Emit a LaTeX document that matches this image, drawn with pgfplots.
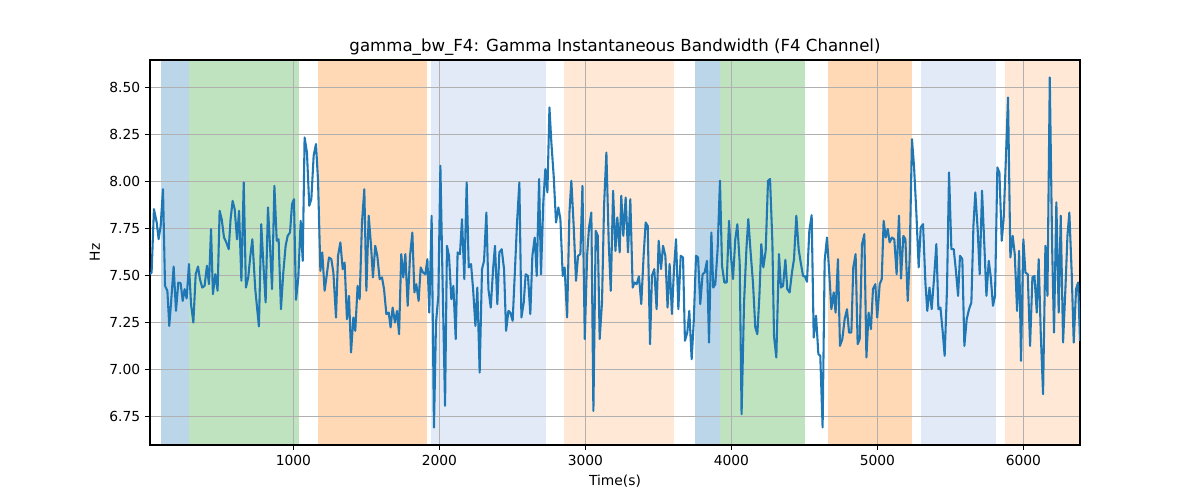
\documentclass[border=0pt]{standalone}
\usepackage{fontspec}
\setmainfont{DejaVu Sans}
\usepackage{pgfplots}
\pgfplotsset{compat=1.18}
\usepackage{pgfplotstable}
\definecolor{tabblue}{HTML}{1F77B4}
\definecolor{tabgreen}{HTML}{2CA02C}
\definecolor{taborange}{HTML}{FF7F0E}
\definecolor{lbl}{RGB}{110,150,215}
\definecolor{gridgray}{HTML}{B0B0B0}
\pgfplotsset{every axis title/.style={at={(0.5,1)}, anchor=base, yshift=6bp, font=\fontsize{12}{14}\selectfont}}

\pgfplotstableread{
t v
18 7.505
29 7.514
45 7.851
64 7.780
77 7.691
91 7.762
107 7.957
121 7.443
137 7.417
150 7.230
164 7.372
180 7.546
196 7.310
212 7.461
228 7.457
242 7.363
255 7.426
269 7.376
285 7.559
299 7.346
315 7.248
331 7.505
347 7.546
360 7.479
376 7.434
392 7.443
408 7.550
422 7.452
436 7.745
449 7.399
465 7.505
481 7.417
495 7.842
509 7.798
525 7.700
541 7.674
557 7.638
570 7.798
584 7.895
598 7.851
614 7.691
628 7.842
644 7.470
660 7.993
675 7.434
691 7.488
705 7.600
719 7.691
739 7.426
751 7.330
764 7.227
780 7.771
794 7.567
810 7.355
826 7.860
840 7.656
854 7.426
870 7.975
886 7.683
899 7.691
915 7.319
931 7.514
947 7.656
961 7.709
977 7.727
991 7.878
1004 7.904
1018 7.369
1034 7.488
1050 7.789
1064 7.576
1077 8.232
1093 8.152
1109 7.869
1123 7.904
1139 8.135
1155 8.197
1169 8.002
1185 7.523
1198 7.621
1214 7.417
1228 7.496
1244 7.594
1260 7.585
1274 7.514
1292 7.275
1306 7.603
1322 7.674
1338 7.532
1351 7.567
1367 7.266
1381 7.390
1395 7.089
1411 7.275
1424 7.204
1440 7.443
1454 7.372
1470 7.780
1486 7.957
1500 7.417
1516 7.816
1532 7.656
1545 7.488
1561 7.656
1575 7.603
1591 7.479
1607 7.488
1621 7.426
1637 7.293
1653 7.301
1666 7.222
1680 7.328
1696 7.248
1710 7.310
1724 7.186
1739 7.612
1753 7.488
1767 7.612
1783 7.337
1799 7.603
1815 7.727
1829 7.408
1842 7.452
1858 7.363
1872 7.541
1888 7.514
1904 7.505
1918 7.585
1931 7.301
1947 7.816
1963 6.690
1977 7.248
1993 7.390
2007 8.082
2023 7.426
2039 6.805
2052 7.656
2066 7.603
2082 7.372
2096 7.443
2112 7.160
2125 7.621
2141 7.612
2155 7.798
2171 7.479
2187 7.993
2201 7.541
2217 7.559
2231 7.426
2247 7.230
2260 7.434
2276 6.982
2292 7.532
2306 7.576
2322 7.833
2336 7.426
2352 7.328
2368 7.532
2381 7.656
2397 7.346
2411 7.621
2427 7.638
2443 7.532
2457 7.204
2473 7.310
2486 7.301
2502 7.257
2518 7.532
2532 7.780
2548 7.993
2562 7.275
2578 7.355
2591 7.505
2607 7.496
2623 7.293
2637 7.603
2653 7.700
2667 7.496
2683 8.011
2696 7.505
2712 7.887
2726 8.064
2740 7.940
2754 8.392
2767 8.206
2783 8.028
2799 7.780
2815 7.860
2829 7.798
2845 7.496
2858 7.541
2875 7.275
2891 7.833
2904 8.002
2920 7.762
2936 7.470
2950 7.603
2966 7.612
2980 7.975
2996 7.160
3012 7.603
3025 7.754
3041 7.833
3055 6.778
3071 7.736
3085 7.709
3098 7.160
3114 7.355
3128 7.869
3144 8.152
3160 7.674
3174 7.417
3190 7.949
3206 7.629
3219 7.807
3235 7.621
3246 7.922
3260 7.709
3276 7.913
3292 7.621
3308 7.904
3324 7.434
3337 7.461
3351 7.452
3367 7.493
3383 7.346
3399 7.603
3413 7.780
3427 7.762
3443 7.133
3456 7.496
3472 7.532
3488 7.319
3502 7.683
3518 7.532
3532 7.656
3548 7.603
3563 7.328
3577 7.559
3593 7.293
3607 7.532
3621 7.691
3637 7.319
3653 7.603
3669 7.594
3682 7.151
3698 7.195
3712 7.310
3728 7.053
3742 7.248
3758 7.603
3772 7.594
3787 7.346
3803 7.505
3817 7.514
3833 7.576
3847 7.142
3863 7.727
3876 7.434
3890 7.452
3906 7.638
3922 8.002
3936 7.550
3952 7.461
3968 7.461
3984 7.789
3997 7.603
4011 7.479
4027 7.691
4041 7.771
4057 7.567
4070 6.761
4087 7.355
4103 7.638
4116 7.798
4132 7.621
4148 7.461
4164 7.222
4178 7.186
4192 7.390
4205 7.665
4219 7.541
4235 7.629
4251 8.002
4265 8.011
4281 7.674
4292 7.177
4308 7.062
4326 7.612
4340 7.434
4354 7.443
4370 7.582
4383 7.426
4399 7.408
4415 7.514
4429 7.585
4445 7.816
4461 7.638
4475 7.567
4491 7.496
4504 7.493
4518 7.465
4534 7.736
4550 7.819
4564 7.168
4580 7.284
4596 7.080
4609 7.071
4625 6.690
4639 7.576
4655 7.700
4671 7.505
4685 7.319
4701 7.408
4714 7.301
4730 7.585
4744 7.124
4760 7.160
4776 7.266
4792 7.319
4806 7.195
4822 7.195
4835 7.541
4851 7.612
4865 7.133
4879 7.160
4895 7.665
4911 7.718
4925 7.062
4940 7.301
4956 7.213
4970 7.426
4986 7.452
4999 7.275
5016 7.452
5030 7.479
5043 7.789
5057 7.700
5071 7.745
5084 7.674
5100 7.700
5116 7.691
5132 7.505
5148 7.816
5162 7.482
5178 7.709
5192 7.691
5208 7.363
5221 7.585
5237 8.223
5251 8.082
5267 7.833
5283 7.541
5297 7.754
5313 7.771
5329 7.461
5342 7.310
5357 7.434
5372 7.319
5388 7.480
5404 7.665
5418 7.319
5432 7.328
5448 7.195
5461 7.071
5477 7.426
5491 8.046
5507 7.638
5523 7.638
5537 7.532
5553 7.390
5566 7.603
5582 7.585
5596 7.124
5612 7.266
5628 7.319
5644 7.355
5658 7.762
5671 7.940
5687 7.745
5701 7.505
5717 7.949
5733 7.656
5747 7.390
5763 7.576
5776 7.496
5792 7.337
5806 7.390
5822 8.073
5836 8.046
5852 7.683
5865 7.798
5881 8.135
5895 8.445
5911 7.594
5927 7.709
5941 7.612
5957 7.310
5971 7.629
5984 7.044
6000 7.691
6014 7.514
6030 7.505
6046 7.124
6062 7.488
6076 7.496
6092 7.301
6105 7.585
6119 7.195
6135 6.867
6151 7.656
6165 7.390
6181 8.551
6197 7.656
6210 7.195
6226 7.887
6242 7.301
6256 7.816
6272 7.142
6288 7.426
6302 7.709
6315 7.833
6331 7.514
6345 7.142
6361 7.426
6375 7.461
6388 7.151
}\gammadata

\begin{document}
\begin{tikzpicture}
\begin{axis}[
  name=ax,
  set layers,
  scale only axis,
  width=669.6bp, height=277.2bp,
  xmin=18, xmax=6388,
  ymin=6.597, ymax=8.644,
  xtick={1000,2000,3000,4000,5000,6000},
  ytick={6.75,7.00,7.25,7.50,7.75,8.00,8.25,8.50},
  /pgf/number format/assume math mode=true,
  xticklabel style={/pgf/number format/1000 sep={}},
  yticklabel style={/pgf/number format/.cd, fixed, fixed zerofill, precision=2},
  ticklabel style={font=\fontsize{10}{12}\selectfont},
  grid=major,
  grid style={gridgray, line width=0.8bp},
  tick align=outside,
  tick pos=left,
  major tick length=3.5bp,
  every tick/.style={black, line width=0.8bp},
  axis line style={line width=0.8bp},
  title={gamma\_bw\_F4: Gamma Instantaneous Bandwidth (F4 Channel)},
  xlabel={Time(s)},
  ylabel={Hz},
  label style={font=\fontsize{10}{12}\selectfont},
]
\pgfonlayer{axis background}
\addplot[fill=tabblue, fill opacity=0.3, draw=none, forget plot] coordinates {(93,6.597) (93,8.644) (285,8.644) (285,6.597)};
\addplot[fill=tabgreen, fill opacity=0.3, draw=none, forget plot] coordinates {(285,6.597) (285,8.644) (1041,8.644) (1041,6.597)};
\addplot[fill=taborange, fill opacity=0.3, draw=none, forget plot] coordinates {(1169,6.597) (1169,8.644) (1918,8.644) (1918,6.597)};
\addplot[fill=lbl, fill opacity=0.2, draw=none, forget plot] coordinates {(1945,6.597) (1945,8.644) (2733,8.644) (2733,6.597)};
\addplot[fill=taborange, fill opacity=0.17, draw=none, forget plot] coordinates {(2856,6.597) (2856,8.644) (3610,8.644) (3610,6.597)};
\addplot[fill=tabblue, fill opacity=0.3, draw=none, forget plot] coordinates {(3753,6.597) (3753,8.644) (3920,8.644) (3920,6.597)};
\addplot[fill=tabgreen, fill opacity=0.3, draw=none, forget plot] coordinates {(3920,6.597) (3920,8.644) (4504,8.644) (4504,6.597)};
\addplot[fill=taborange, fill opacity=0.3, draw=none, forget plot] coordinates {(4664,6.597) (4664,8.644) (5237,8.644) (5237,6.597)};
\addplot[fill=lbl, fill opacity=0.2, draw=none, forget plot] coordinates {(5301,6.597) (5301,8.644) (5815,8.644) (5815,6.597)};
\addplot[fill=taborange, fill opacity=0.17, draw=none, forget plot] coordinates {(5877,6.597) (5877,8.644) (6388,8.644) (6388,6.597)};
\endpgfonlayer
\addplot[tabblue, line width=1.5bp, mark=none, line join=round] table[x=t, y=v] {\gammadata};
\end{axis}
\pgfresetboundingbox
\path ([shift={(-108bp,-39.6bp)}]ax.south west) rectangle ([shift={(86.4bp,43.2bp)}]ax.north east);
\end{tikzpicture}
\end{document}
